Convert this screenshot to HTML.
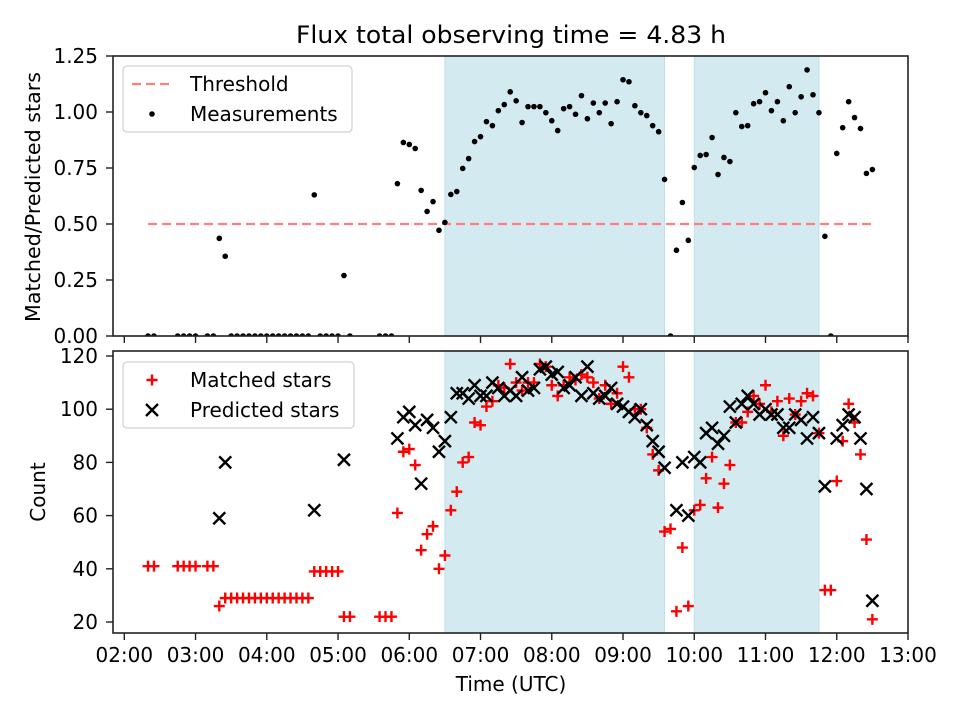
<!DOCTYPE html>
<html><head><meta charset="utf-8"><style>
body{margin:0;background:#fff}
svg{display:block;font-family:"DejaVu Sans","Liberation Sans",sans-serif}
</style></head><body>
<svg id="chart" width="960" height="720" viewBox="0 0 960 720"></svg>
<script>
// ---- data (time in minutes since 00:00 UTC) ----
const earlyTimes = [140,145,165,170,175,180,190,195,200,205,210,215,220,225,230,235,240,245,250,255,260,265,270,275,280,285,290,295,300,305,310,335,340,345];
const earlyRatio = [0,0,0,0,0,0,0,0,0.436,0.356,0,0,0,0,0,0,0,0,0,0,0,0,0,0,0.63,0,0,0,0,0.27,0,0,0,0];
const earlyMatched = [41,41,41,41,41,41,41,41,26,29,29,29,29,29,29,29,29,29,29,29,29,29,29,29,39,39,39,39,39,22,22,22,22,22];
const earlyPredicted = [null,null,null,null,null,null,null,null,59,80,null,null,null,null,null,null,null,null,null,null,null,null,null,null,62,null,null,null,null,81,null,null,null,null];
const mainRatio = [0.68,0.864,0.855,0.837,0.65,0.556,0.60,0.472,0.507,0.632,0.645,0.748,0.792,0.868,0.89,0.957,0.939,1.006,1.033,1.09,1.05,0.953,1.024,1.024,1.024,0.997,0.961,0.917,1.015,1.024,0.99,1.073,0.97,1.04,0.997,1.04,0.948,1.046,1.144,1.135,1.028,0.997,0.984,0.939,0.912,0.699,0,0.383,0.596,0.427,0.752,0.806,0.81,0.886,0.721,0.797,0.779,0.997,0.935,0.939,1.037,1.046,1.086,1.006,1.046,0.961,1.113,0.997,1.068,1.188,1.077,0.997,0.445,0,0.815,0.93,1.046,0.975,0.926,0.726,0.743];
const mainPredicted = [89,97,99,94,72,96,93,84,88,97,106,106,104,109,105,105,110,108,105,107,105,112,107,108,115,116,113,114,108,109,112,105,116,106,104,105,108,102,101,99,97,100,94,88,84,78,null,62,80,60,82,80,91,93,87,90,101,95,102,105,102,98,100,98,98,93,93,98,96,89,97,91,71,null,89,94,98,97,89,70,28];
const mainMatched = [61,84,85,79,47,53,56,40,45,62,69,80,82,95,94,101,103,109,108,117,110,107,110,110,117,116,109,105,109,112,111,113,112,110,104,109,102,106,116,112,100,100,93,83,77,54,55,24,48,26,62,64,74,82,63,72,79,95,95,99,105,102,109,99,103,90,104,98,103,106,105,91,32,32,73,88,102,95,83,51,21];
const mainStart = 350, mainStep = 5;
const xTickLabels = ["02:00","03:00","04:00","05:00","06:00","07:00","08:00","09:00","10:00","11:00","12:00","13:00"];
const topTicks = [0,0.25,0.5,0.75,1.0,1.25];
const botTicks = [20,40,60,80,100,120];
const spans = [[390,575],[600,705]];
const threshold = 0.5;

const times = earlyTimes.slice(), ratio = earlyRatio.slice(), matched = earlyMatched.slice(), predicted = earlyPredicted.slice();
for (let i=0;i<mainRatio.length;i++){times.push(mainStart+mainStep*i);ratio.push(mainRatio[i]);matched.push(mainMatched[i]);predicted.push(mainPredicted[i]);}

const NS="http://www.w3.org/2000/svg";
const svg=document.getElementById('chart');
function el(tag,attrs,parent){const e=document.createElementNS(NS,tag);for(const k in attrs)e.setAttribute(k,attrs[k]);(parent||svg).appendChild(e);return e;}
const L=113,R=908;
const T1=56,B1=336,T2=351,B2=633;
const FS=20;
const xMin=120-(124.3-113)/71.3*60, xMax=780;
function X(m){return L+(m-xMin)/(xMax-xMin)*(R-L);}
function Y1(v){return B1-(v/1.25)*(B1-T1);}
function Y2(v){return 622-(v-20)*(622-356)/100;}

// title
let t=el('text',{x:511,y:43,'text-anchor':'middle','font-size':24,fill:'#000',textLength:430,lengthAdjust:'spacingAndGlyphs'});


t.textContent='Flux total observing time = 4.83 h';

function panel(T,B,name){
  const g=el('g',{});
  
  
  spans.forEach((s,i)=>{
    const r=el('rect',{x:X(s[0]),y:T,width:X(s[1])-X(s[0]),height:B-T,fill:'#d3eaf0',stroke:'#bfdfe8','stroke-width':1},g);
    
    
  });
  return g;
}
const gTop=panel(T1,B1,'top-panel');
const gBot=panel(T2,B2,'bottom-panel');

// threshold
let th=el('line',{x1:X(times[0]),x2:X(times[times.length-1]),y1:Y1(threshold),y2:Y1(threshold),stroke:'#ff7f7f','stroke-width':2.2,'stroke-dasharray':'9,5'},gTop);



// top points
const clip=el('clipPath',{id:'c1'});el('rect',{x:L,y:T1,width:R-L,height:B1-T1},clip);
const ptsG=el('g',{'clip-path':'url(#c1)'},gTop);
ratio.forEach((v,i)=>{
  const c=el('circle',{cx:X(times[i]),cy:Y1(v),r:2.8,fill:'#000'},ptsG);
  
  
});

// bottom points
const clip2=el('clipPath',{id:'c2'});el('rect',{x:L,y:T2,width:R-L,height:B2-T2},clip2);
const bG=el('g',{'clip-path':'url(#c2)'},gBot);
matched.forEach((v,i)=>{
  const x=X(times[i]),y=Y2(v),s=5.5;
  const p=el('path',{d:`M${x-s},${y}H${x+s}M${x},${y-s}V${y+s}`,stroke:'#ff0000','stroke-width':2.4,fill:'none'},bG);
  
  
});
predicted.forEach((v,i)=>{
  if(v===null)return;
  const x=X(times[i]),y=Y2(v),s=6;
  const p=el('path',{d:`M${x-s},${y-s}L${x+s},${y+s}M${x-s},${y+s}L${x+s},${y-s}`,stroke:'#000','stroke-width':2.4,fill:'none'},bG);
  
  
});

// frames & ticks
[[T1,B1,gTop],[T2,B2,gBot]].forEach(([T,B,g])=>{
  el('rect',{x:L,y:T,width:R-L,height:B-T,fill:'none',stroke:'#222','stroke-width':1.6},g);
  xTickLabels.forEach((lab,i)=>{const x=X(120+60*i);el('line',{x1:x,x2:x,y1:B,y2:B+7,stroke:'#222','stroke-width':1.4},g);});
});
topTicks.forEach(v=>{
  const y=Y1(v);el('line',{x1:L-7,x2:L,y1:y,y2:y,stroke:'#222','stroke-width':1.4},gTop);
  const tx=el('text',{x:L-15,y:y+7,'text-anchor':'end','font-size':FS},gTop);
  
  
  tx.textContent=v.toFixed(2);
});
botTicks.forEach(v=>{
  const y=Y2(v);el('line',{x1:L-7,x2:L,y1:y,y2:y,stroke:'#222','stroke-width':1.4},gBot);
  const tx=el('text',{x:L-15,y:y+7,'text-anchor':'end','font-size':FS},gBot);
  
  
  tx.textContent=v;
});
xTickLabels.forEach((lab,i)=>{
  const tx=el('text',{x:X(120+60*i),y:662,'text-anchor':'middle','font-size':FS},gBot);
  
  
  tx.textContent=lab;
});

// axis titles
let a=el('text',{x:0,y:0,'text-anchor':'middle','font-size':FS,textLength:250,lengthAdjust:'spacingAndGlyphs',transform:'translate(40,197) rotate(-90)'});


a.textContent='Matched/Predicted stars';
a=el('text',{x:0,y:0,'text-anchor':'middle','font-size':FS,transform:'translate(45,492) rotate(-90)'});


a.textContent='Count';
a=el('text',{x:511,y:691,'text-anchor':'middle','font-size':FS});


a.textContent='Time (UTC)';

// legends
function legend(y0,w,entries,name){
  const g=el('g',{});
  
  
  el('rect',{x:123,y:y0,width:w,height:66,rx:4,fill:'#fff','fill-opacity':0.8,stroke:'#d0d0d0','stroke-width':1.2},g);
  entries.forEach((e,i)=>{
    const cy=y0+18+i*30;
    e.draw(g,152,cy);
    const tx=el('text',{x:190,y:cy+7,'font-size':FS},g);
    
    
    tx.textContent=e.label;
  });
}
legend(66,229,[
 {label:'Threshold',draw:(g,x,y)=>el('line',{x1:x-20,x2:x+20,y1:y,y2:y,stroke:'#ff7f7f','stroke-width':2.2,'stroke-dasharray':'9,5'},g)},
 {label:'Measurements',draw:(g,x,y)=>el('circle',{cx:x,cy:y,r:2.8,fill:'#000'},g)}
],'top-legend');
legend(362,231,[
 {label:'Matched stars',draw:(g,x,y)=>el('path',{d:`M${x-5.5},${y}H${x+5.5}M${x},${y-5.5}V${y+5.5}`,stroke:'#f00','stroke-width':2.4},g)},
 {label:'Predicted stars',draw:(g,x,y)=>el('path',{d:`M${x-6},${y-6}L${x+6},${y+6}M${x-6},${y+6}L${x+6},${y-6}`,stroke:'#000','stroke-width':2.4},g)}
],'bottom-legend');
</script>
</body></html>
